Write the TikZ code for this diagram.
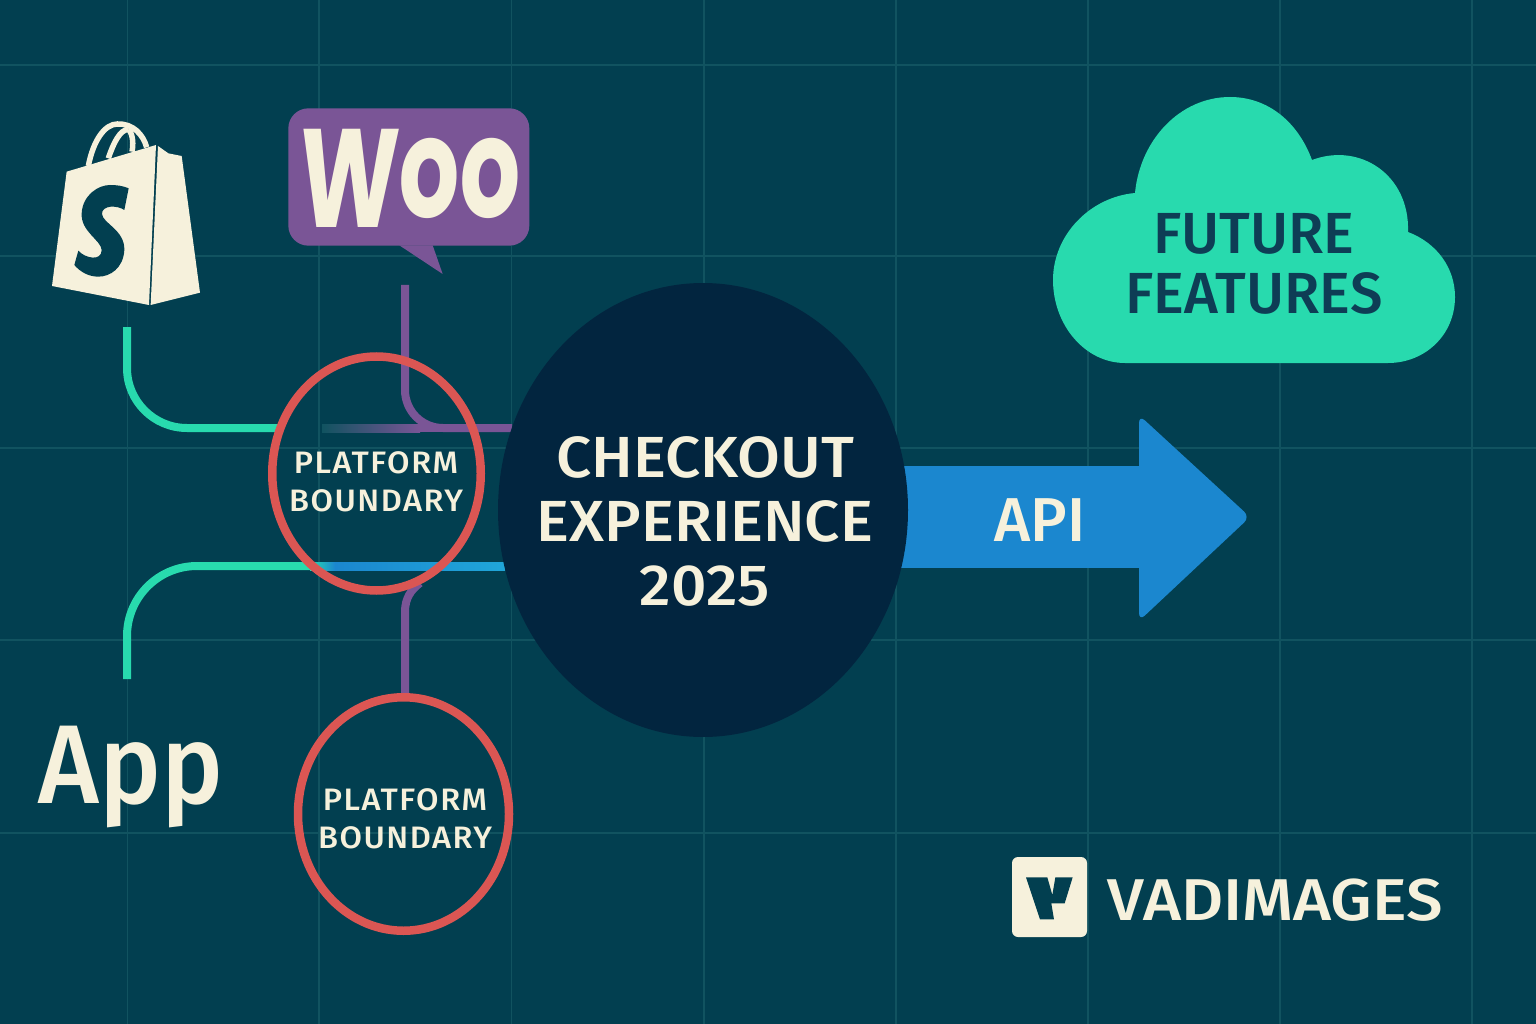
\documentclass[tikz,border=0pt]{standalone}
\usepackage{fontspec}
\usetikzlibrary{shapes.geometric,backgrounds}
\setmainfont{Open Sans}
\IfFontExistsTF{Noto Sans SemiBold}{\def\medname{Noto Sans SemiBold}\def\medser{}}{%
 \IfFontExistsTF{Noto Sans Medium}{\def\medname{Noto Sans Medium}\def\medser{}}{%
  \IfFontExistsTF{Fira Sans Medium}{\def\medname{Fira Sans Medium}\def\medser{}}{%
   \def\medname{Open Sans}\def\medser{\bfseries}}}}
\newfontfamily\medbase{\medname}
\newfontfamily\widebase[FakeStretch=1.07]{\medname}
\newfontfamily\brandbase[FakeStretch=1.105]{\medname}
\newfontfamily\ringbase[LetterSpace=5,FakeStretch=1.05]{\medname}
\newcommand{\medfont}{\medbase\medser}
\newcommand{\widefont}{\widebase\medser}
\newcommand{\brandfont}{\brandbase\medser}
\newcommand{\ringfont}{\ringbase\medser}
\newfontfamily\woofont[FakeSlant=0.06]{Poppins}
\definecolor{bgc}{HTML}{023F50}
\definecolor{gridc}{HTML}{115360}
\definecolor{hubc}{HTML}{02253F}
\definecolor{ringc}{HTML}{DB5653}
\definecolor{tealc}{HTML}{28DAAE}
\definecolor{purc}{HTML}{7A5596}
\definecolor{bluec}{HTML}{1B87CF}
\definecolor{linkblue}{HTML}{20A6D9}
\definecolor{creamc}{HTML}{F6F1DC}
\definecolor{inkc}{HTML}{0E3D55}
\tikzset{
  gridline/.style={gridc,line width=1.6pt},
  tealline/.style={tealc,line width=8pt},
  purline/.style={purc,line width=8pt},
  ring/.style={ellipse,draw=ringc,line width=8.5pt,inner sep=0pt},
  ringtext/.style={text=creamc,align=center,inner sep=0pt,font=\ringfont\fontsize{31}{38}\selectfont},
  handle/.style={creamc,line width=5.5pt},
  zoomA/.style={xshift=30pt,yshift=-90pt,x=0.33333pt,y=-0.33333pt},
  zoomB/.style={xshift=990pt,yshift=-840pt,x=0.33333pt,y=-0.33333pt},
}
\begin{document}
\begin{tikzpicture}[x=1pt,y=-1pt]
\useasboundingbox (0,0) rectangle (1536,1024);
% foreground nodes
\node[ellipse,fill=hubc,minimum width=410pt,minimum height=454pt,inner sep=0pt] (hub) at (703,510) {};
\node[text=creamc,align=center,inner sep=0pt,font=\widefont\fontsize{58}{64}\selectfont] (hubtext) at (705,521) {CHECKOUT\\EXPERIENCE\\2025};
\node[ring,minimum width=208.5pt,minimum height=234pt] (ringA) at (376.5,473.5) {};
\node[ringtext] (ringAtext) at (376,482) {PLATFORM\\BOUNDARY};
\node[ring,minimum width=211pt,minimum height=233.5pt] (ringB) at (403.5,814) {};
\node[ringtext] (ringBtext) at (405,819) {PLATFORM\\BOUNDARY};
% free ends
\coordinate (shopEnd) at (127,327);
\coordinate (wooEnd) at (405,285);
\coordinate (appEnd) at (127,679);
\coordinate (tealA) at (280,428);
\coordinate (purA) at (512,428);
\coordinate (tealB) at (312,566);
\begin{scope}[on background layer]
  \fill[bgc] (0,0) rectangle (1536,1024);
  \foreach \gx in {127.5,319,511.5,704,896,1088,1280,1472}
    \draw[gridline] (\gx,0) -- (\gx,1024);
  \foreach \gy in {65,256,448,640,833}
    \draw[gridline] (0,\gy) -- (1536,\gy);
  % connectors
  \draw[tealline,rounded corners=60pt] (shopEnd) |- (tealA);
  \shade[left color=gridc,right color=purc] (322,424) rectangle (420,432);
  \fill[purc] (420,424) rectangle (445,432);
  \draw[purline,rounded corners=38pt] (wooEnd) |- (purA);
  \draw[purline] (ringB.north -| wooEnd) -- (405,612) .. controls (405,598) and (411,590) .. (420,583);
  \draw[tealline,rounded corners=70pt] (appEnd) |- (tealB);
  \shade[left color=tealc,right color=bluec] (310,562) rectangle (335,570);
  \shade[left color=bluec,right color=linkblue] (335,562) rectangle (505,570);
  % API arrow
  \fill[bluec] (880,466) rectangle (1145,568);
  \fill[bluec,rounded corners=8pt] (1139,415) -- (1250,517) -- (1139,621) -- cycle;
\end{scope}
\node[text=creamc,font=\medfont\fontsize{62}{62}\selectfont] (api) at (1040,520) {API};
% Shopify bag
\begin{scope}[zoomA]
  \fill[creamc] (110,245) -- (378,165) -- (357,645) -- (66,588) -- cycle;
  \fill[creamc] (384,168) -- (415,190) -- (455,198) -- (510,608) -- (362,645) -- cycle;
  \draw[handle] (175,228) .. controls (190,150) and (225,102) .. (262,102) .. controls (310,100) and (340,135) .. (350,172);
  \draw[handle] (235,205) .. controls (250,160) and (270,118) .. (296,118);
  \draw[handle] (296,118) .. controls (310,135) and (310,165) .. (306,185);
  \fill[bgc] (296,295) -- (283,360) .. controls (262,345) and (215,345) .. (216,372)
    .. controls (218,400) and (285,420) .. (283,480)
    .. controls (280,535) and (240,560) .. (205,560)
    .. controls (175,560) and (150,545) .. (133,525) -- (145,482)
    .. controls (165,505) and (215,515) .. (215,480)
    .. controls (213,450) and (152,425) .. (155,370)
    .. controls (158,315) and (205,285) .. (240,285)
    .. controls (262,285) and (280,288) .. (296,295) -- cycle;
\end{scope}
% Woo bubble
\begin{scope}[zoomA]
  \fill[purc,rounded corners=20pt] (775,55) rectangle (1498,467);
  \fill[purc] (1108,466) -- (1238,552) -- (1208,466) -- cycle;
\end{scope}
\node[text=creamc,anchor=base,inner sep=0pt,font=\woofont\bfseries\fontsize{140}{140}\selectfont] (woo) at (408,218) {\scalebox{0.68}[1]{\raisebox{-10pt}{W}oo}};
% Cloud
\fill[tealc] (1125,363) .. controls (1085,363) and (1053,325) .. (1053,280)
  .. controls (1053,235) and (1090,197) .. (1135,193)
  .. controls (1140,140) and (1180,97) .. (1230,97)
  .. controls (1268,97) and (1298,122) .. (1312,160)
  .. controls (1360,142) and (1410,175) .. (1408,232)
  .. controls (1437,243) and (1455,268) .. (1455,297)
  .. controls (1455,335) and (1425,363) .. (1388,363) -- cycle;
\node[text=inkc,align=center,inner sep=0pt,font=\medfont\fontsize{58}{60}\selectfont] (future) at (1254,264) {FUTURE\\FEATURES};
% App
\node[text=creamc,anchor=base,inner sep=0pt,font=\medfont\fontsize{112}{112}\selectfont] (app) at (131,803) {\scalebox{0.93}[1]{App}};
% Logo
\fill[creamc,rounded corners=6pt] (1012,857) rectangle (1087,937);
\begin{scope}[zoomB]
  \fill[bgc] (108,112) -- (172,112) -- (187,165) -- (196,112) -- (248,112) -- (224,190) -- (184,190) -- (192,238) -- (150,238) -- cycle;
\end{scope}
\node[text=creamc,anchor=base west,inner sep=0pt,font=\brandfont\fontsize{59}{59}\selectfont] (brand) at (1107,920) {VADIMAGES};
\end{tikzpicture}
\end{document}
